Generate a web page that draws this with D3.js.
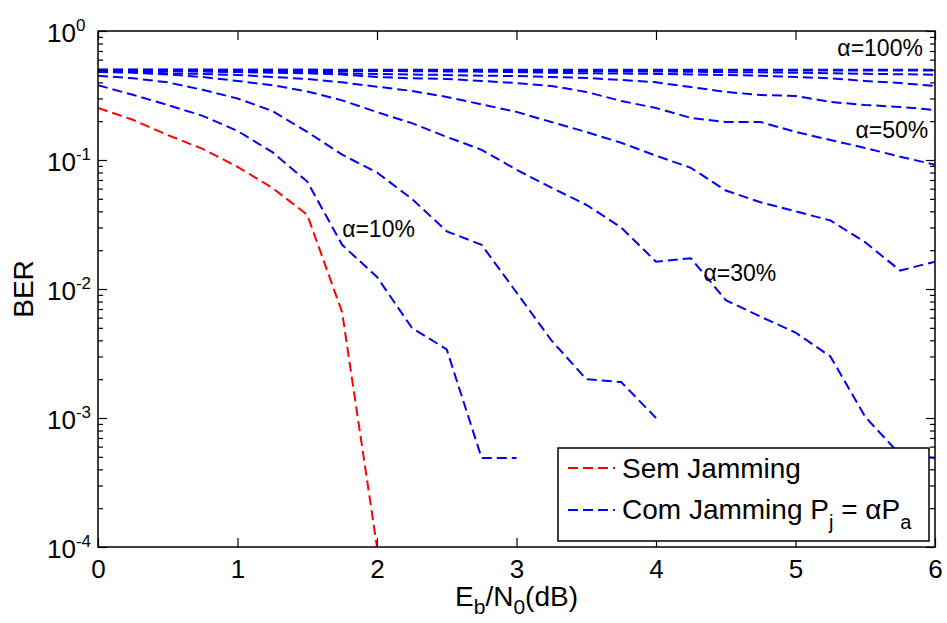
<!DOCTYPE html>
<html><head><meta charset="utf-8">
<script src="https://cdn.jsdelivr.net/npm/d3@7"></script>
<style>body{margin:0;background:#fff}svg{display:block}</style>
</head><body>
<svg id="c" width="947" height="623"></svg>
<script>
// ---- data ----
const ebn0 = [0,0.25,0.5,0.75,1,1.25,1.5,1.75,2,2.25,2.5,2.75,3,3.25,3.5,3.75,4,4.25,4.5,4.75,5,5.25,5.5,5.75,6];
const berSemJamming = [0.253,0.205,0.156,0.122,0.0885,0.0608,0.0376,0.0066,0.0001];
const berAlpha10 = [0.38,0.32,0.267,0.22,0.168,0.115,0.068,0.022,0.0124,0.005,0.0034,0.00049,0.00049];
const berAlpha20 = [0.45,0.43,0.40,0.35,0.30,0.24,0.165,0.11,0.08,0.05,0.028,0.022,0.0094,0.004,0.002,0.0019,0.001];
const berAlpha30 = [0.48,0.475,0.46,0.44,0.41,0.38,0.34,0.29,0.235,0.193,0.151,0.12,0.084,0.061,0.045,0.030,0.0163,0.0173,0.0082,0.0061,0.0046,0.0030,0.00102,0.00052,0.00049];
const berAlpha40 = [0.49,0.48,0.47,0.465,0.456,0.44,0.425,0.40,0.37,0.343,0.308,0.27,0.236,0.197,0.165,0.136,0.108,0.087,0.058,0.047,0.040,0.034,0.023,0.0139,0.0163];
const berAlpha50 = [0.49,0.49,0.49,0.485,0.48,0.475,0.47,0.46,0.44,0.43,0.425,0.41,0.395,0.375,0.337,0.287,0.253,0.212,0.197,0.197,0.165,0.143,0.124,0.106,0.092];
const berAlpha60 = [0.495,0.49,0.49,0.49,0.485,0.48,0.48,0.47,0.465,0.46,0.456,0.45,0.448,0.44,0.433,0.417,0.40,0.368,0.337,0.319,0.314,0.282,0.267,0.258,0.244];
const berAlpha70 = [0.495,0.495,0.495,0.495,0.495,0.495,0.49,0.49,0.49,0.488,0.486,0.484,0.48,0.475,0.47,0.468,0.465,0.46,0.456,0.45,0.44,0.43,0.41,0.395,0.375];
const berAlpha80 = [0.5,0.5,0.5,0.5,0.498,0.498,0.497,0.496,0.495,0.494,0.493,0.492,0.49,0.489,0.488,0.486,0.485,0.483,0.48,0.478,0.475,0.47,0.466,0.462,0.458];
const berAlpha90 = [0.5,0.5,0.5,0.5,0.5,0.5,0.5,0.499,0.499,0.499,0.498,0.498,0.498,0.497,0.497,0.497,0.496,0.496,0.496,0.495,0.495,0.494,0.494,0.493,0.493];
const berAlpha100 = [0.5,0.5,0.5,0.5,0.5,0.5,0.5,0.5,0.5,0.5,0.5,0.5,0.5,0.5,0.5,0.5,0.5,0.5,0.5,0.5,0.5,0.5,0.5,0.5,0.5];
const xTickValues = [0,1,2,3,4,5,6];
const yDecades = [1e-4,1e-3,1e-2,1e-1,1];
const yExponents = ["-4","-3","-2","-1","0"];
const alphaLabels = ["\u03b1=10%","\u03b1=30%","\u03b1=50%","\u03b1=100%"];
const legendLabels = ["Sem Jamming","Com Jamming P"];

// ---- layout ----
const W = 947, H = 623;
const L = 98, R = 935, T = 31, B = 547;
const FONT = "'Liberation Sans', Arial, Helvetica, sans-serif";
const svg = d3.select("#c");
svg.append("rect").attr("width", W).attr("height", H).attr("fill", "#fff");

const x = d3.scaleLinear().domain([0, 6]).range([L, R]);
const y = d3.scaleLog().domain([1e-4, 1]).range([B, T]);

const minor = [];
for (let e = -4; e < 0; e++) for (let m = 2; m <= 9; m++) minor.push(m * Math.pow(10, e));

svg.append("defs").append("clipPath").attr("id", "clip")
  .append("rect").attr("x", L).attr("y", T).attr("width", R - L).attr("height", B - T);

// series
const series = [
  {v: berSemJamming, c: "#ff0000"},
  {v: berAlpha10, c: "#0000ff"},
  {v: berAlpha20, c: "#0000ff"},
  {v: berAlpha30, c: "#0000ff"},
  {v: berAlpha40, c: "#0000ff"},
  {v: berAlpha50, c: "#0000ff"},
  {v: berAlpha60, c: "#0000ff"},
  {v: berAlpha70, c: "#0000ff"},
  {v: berAlpha80, c: "#0000ff"},
  {v: berAlpha90, c: "#0000ff"},
  {v: berAlpha100, c: "#0000ff"}
];
const line = d3.line().x(d => x(d[0])).y(d => y(d[1]));
const gLines = svg.append("g").attr("clip-path", "url(#clip)");
series.slice().reverse().forEach(s => {
  gLines.append("path")
    .datum(s.v.map((v, i) => [ebn0[i], v]))
    .attr("d", line)
    .attr("fill", "none")
    .attr("stroke", s.c)
    .attr("stroke-width", 2)
    .attr("stroke-dasharray", "10,5");
});

// axes
function styleAxis(g) {
  g.select(".domain").remove();
  g.selectAll(".tick line").attr("stroke", "#000").attr("stroke-width", 1.2);
}
svg.append("g").attr("transform", `translate(0,${B})`)
  .call(d3.axisBottom(x).tickValues(xTickValues).tickSize(-9).tickPadding(13).tickFormat(d3.format("d")))
  .call(styleAxis)
  .call(g => g.selectAll(".tick text").attr("font-family", FONT).attr("font-size", 26).attr("fill", "#000").attr("dy", "0.71em"));
svg.append("g").attr("transform", `translate(0,${T})`)
  .call(d3.axisTop(x).tickValues(xTickValues).tickSize(-9).tickFormat(""))
  .call(styleAxis);
// y major left
svg.append("g").attr("transform", `translate(${L},0)`)
  .call(d3.axisLeft(y).tickValues(yDecades).tickSize(-9))
  .call(styleAxis)
  .call(g => g.selectAll(".tick text").each(function(d) {
    const t = d3.select(this);
    t.text("").attr("x", 47 - L).attr("dy", null).attr("y", 10)
      .attr("text-anchor", "start").attr("font-family", FONT).attr("fill", "#000");
    t.append("tspan").attr("font-size", 26).text("10");
    t.append("tspan").attr("font-size", 17).attr("dy", -11).text(yExponents[yDecades.indexOf(d)]);
  }));
svg.append("g").attr("transform", `translate(${L},0)`)
  .call(d3.axisLeft(y).tickValues(minor).tickSize(-5).tickFormat(""))
  .call(styleAxis);
svg.append("g").attr("transform", `translate(${R},0)`)
  .call(d3.axisRight(y).tickValues(yDecades).tickSize(-9).tickFormat(""))
  .call(styleAxis);
svg.append("g").attr("transform", `translate(${R},0)`)
  .call(d3.axisRight(y).tickValues(minor).tickSize(-5).tickFormat(""))
  .call(styleAxis);

// frame
svg.append("rect").attr("x", L).attr("y", T).attr("width", R - L).attr("height", B - T)
  .attr("fill", "none").attr("stroke", "#000").attr("stroke-width", 1.5);

// axis titles
const xt = svg.append("text").attr("x", x(3)).attr("y", 606).attr("text-anchor", "middle")
  .attr("font-family", FONT).attr("font-size", 28).attr("fill", "#000");
xt.append("tspan").text("E");
xt.append("tspan").attr("font-size", 21).attr("dy", 8).text("b");
xt.append("tspan").attr("dy", -8).text("/N");
xt.append("tspan").attr("font-size", 21).attr("dy", 8).text("0");
xt.append("tspan").attr("dy", -8).text("(dB)");

svg.append("text").attr("transform", `translate(33,${(T + B) / 2}) rotate(-90)`)
  .attr("text-anchor", "middle").attr("font-family", FONT).attr("font-size", 28).attr("fill", "#000")
  .text("BER");

// alpha annotations
const annot = [
  {t: alphaLabels[0], xv: 1.75, yv: 0.0255},
  {t: alphaLabels[1], xv: 4.34, yv: 0.0116},
  {t: alphaLabels[2], xv: 5.43, yv: 0.148},
  {t: alphaLabels[3], xv: 5.3, yv: 0.645}
];
annot.forEach(a => {
  svg.append("text").attr("x", x(a.xv)).attr("y", y(a.yv))
    .attr("font-family", FONT).attr("font-size", 23).attr("fill", "#000").text(a.t);
});

// legend
const lg = svg.append("g");
lg.append("rect").attr("x", 558).attr("y", 448).attr("width", 371).attr("height", 93)
  .attr("fill", "#fff").attr("stroke", "#000").attr("stroke-width", 1.5);
lg.append("line").attr("x1", 568).attr("x2", 615).attr("y1", 468).attr("y2", 468)
  .attr("stroke", "#ff0000").attr("stroke-width", 2).attr("stroke-dasharray", "10,5");
lg.append("line").attr("x1", 568).attr("x2", 615).attr("y1", 510).attr("y2", 510)
  .attr("stroke", "#0000ff").attr("stroke-width", 2).attr("stroke-dasharray", "10,5");
lg.append("text").attr("x", 622).attr("y", 478).attr("font-family", FONT).attr("font-size", 28)
  .attr("fill", "#000").text(legendLabels[0]);
const l2 = lg.append("text").attr("x", 622).attr("y", 519).attr("font-family", FONT).attr("font-size", 28).attr("fill", "#000");
l2.append("tspan").text(legendLabels[1]);
l2.append("tspan").attr("font-size", 20).attr("dy", 10).text("j");
l2.append("tspan").attr("dy", -10).text(" = \u03b1P");
l2.append("tspan").attr("font-size", 20).attr("dy", 10).text("a");
</script>
</body></html>
